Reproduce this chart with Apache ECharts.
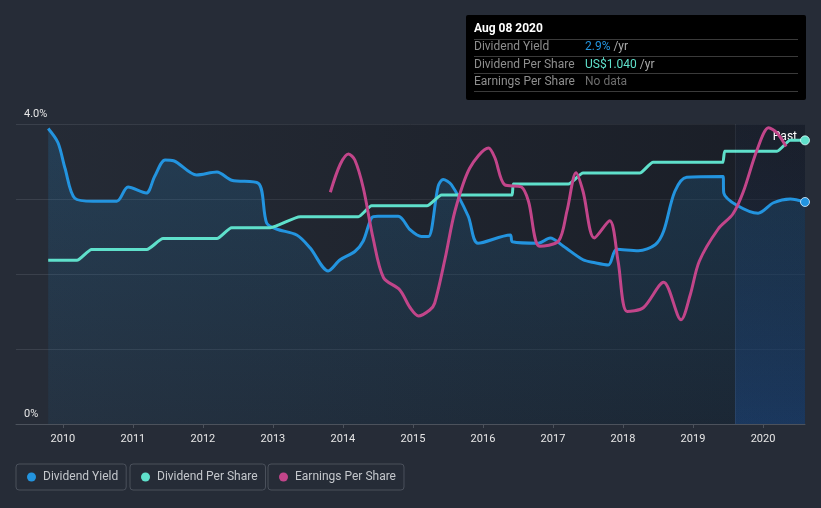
<!DOCTYPE html>
<html>
<head>
<meta charset="utf-8">
<script src="https://cdn.jsdelivr.net/npm/echarts@6/dist/echarts.min.js"></script>
<style>
html,body{margin:0;padding:0;background:#262c37;}
#chart{width:821px;height:508px;}
</style>
</head>
<body>
<div id="chart"></div>
<script>
// ---- data (decimal years) ----
const yearTicks = [2010, 2011, 2012, 2013, 2014, 2015, 2016, 2017, 2018, 2019, 2020];

const yieldDates = [2009.79, 2009.93, 2010.03, 2010.17, 2010.43, 2010.77, 2010.93, 2011.19, 2011.31, 2011.46,
  2011.58, 2011.91, 2012.2, 2012.41, 2012.79, 2012.91, 2013.05, 2013.34, 2013.53, 2013.79,
  2013.96, 2014.17, 2014.29, 2014.41, 2014.5, 2014.79, 2014.96, 2015.12, 2015.22, 2015.36,
  2015.43, 2015.55, 2015.79, 2015.93, 2016.39, 2016.42, 2016.79, 2016.96, 2017.15, 2017.43,
  2017.6, 2017.79, 2017.91, 2018.22, 2018.46, 2018.58, 2018.74, 2018.91, 2019.43, 2019.44,
  2019.62, 2019.93, 2020.15, 2020.39, 2020.6];
const yieldValues = [3.94, 3.75, 3.41, 3.01, 2.97, 2.97, 3.16, 3.08, 3.30, 3.52,
  3.51, 3.32, 3.36, 3.25, 3.21, 2.68, 2.60, 2.52, 2.35, 2.04,
  2.19, 2.30, 2.44, 2.75, 2.77, 2.77, 2.59, 2.50, 2.50, 3.17,
  3.26, 3.19, 2.77, 2.41, 2.52, 2.43, 2.41, 2.48, 2.37, 2.19,
  2.15, 2.12, 2.33, 2.31, 2.39, 2.57, 3.10, 3.29, 3.30, 3.08,
  2.92, 2.81, 2.95, 3.00, 2.96];

const dpsDates = [2009.79, 2010.2, 2010.41, 2011.2, 2011.43, 2012.2, 2012.41, 2012.96, 2013.39, 2014.22,
  2014.41, 2015.2, 2015.41, 2016.42, 2016.43, 2017.22, 2017.43, 2018.24, 2018.43, 2019.43,
  2019.45, 2020.2, 2020.39, 2020.6];
const dpsValues = [0.60, 0.60, 0.64, 0.64, 0.68, 0.68, 0.72, 0.72, 0.76, 0.76,
  0.80, 0.80, 0.84, 0.84, 0.88, 0.88, 0.92, 0.92, 0.96, 0.96,
  1.00, 1.00, 1.04, 1.04];

const epsDates = [2013.82, 2013.96, 2014.08, 2014.17, 2014.29, 2014.43, 2014.58, 2014.81, 2014.96, 2015.08,
  2015.24, 2015.31, 2015.46, 2015.6, 2015.81, 2016.08, 2016.17, 2016.31, 2016.55, 2016.65,
  2016.81, 2017.08, 2017.2, 2017.33, 2017.43, 2017.59, 2017.81, 2017.93, 2018.06, 2018.29,
  2018.58, 2018.83, 2018.96, 2019.09, 2019.36, 2019.57, 2019.72, 2019.91, 2020.08, 2020.2,
  2020.33];
const epsValues = [3.09, 3.46, 3.60, 3.52, 3.15, 2.48, 1.95, 1.79, 1.55, 1.44,
  1.52, 1.61, 2.21, 2.84, 3.41, 3.68, 3.55, 3.19, 3.16, 2.97,
  2.37, 2.44, 2.84, 3.35, 3.10, 2.48, 2.71, 2.17, 1.50, 1.55,
  1.89, 1.39, 1.72, 2.17, 2.60, 2.80, 3.10, 3.64, 3.95, 3.88,
  3.70];

const seriesNames = ['Dividend Yield', 'Dividend Per Share', 'Earnings Per Share'];
const tooltipTitle = 'Aug 08 2020';
const tooltipRows = [
  ['Dividend Yield', '2.9%', ' /yr'],
  ['Dividend Per Share', 'US$1.040', ' /yr'],
  ['Earnings Per Share', 'No data', '']
];
const pastLabel = 'Past';

// ---- build ----
const C_YIELD = '#2394df', C_DPS = '#5fe0cb', C_EPS = '#c2458a';
const zip = (xs, ys) => xs.map((x, i) => [x, ys[i]]);
const lastDate = yieldDates[yieldDates.length - 1];
const firstDate = yieldDates[0];
const pastStart = lastDate - 1;
const FONT = 'Roboto, "Noto Sans", sans-serif';

function endSymbolSize(n) {
  return function (v, p) { return p.dataIndex === n - 1 ? 9 : 0; };
}

const chart = echarts.init(document.getElementById('chart'));
const rowY = [47, 65, 82];
const graphicEls = [
  { type: 'rect', shape: { x: 466, y: 15, width: 340, height: 85, r: 2 }, style: { fill: '#000' }, z: 100 },
  { type: 'text', x: 474, y: 29, style: { text: tooltipTitle, fill: '#fff', font: 'bold 12px ' + FONT, verticalAlign: 'middle' }, z: 101 }
];
[39, 56, 73, 91].forEach(function (yy) {
  graphicEls.push({ type: 'line', shape: { x1: 474, y1: yy + 0.5, x2: 798, y2: yy + 0.5 }, style: { stroke: '#3a3a3a', lineWidth: 1 }, z: 101 });
});
const valColors = [C_YIELD, C_DPS, '#6e6e6e'];
tooltipRows.forEach(function (r, i) {
  graphicEls.push({ type: 'text', x: 474, y: rowY[i], style: { text: r[0], fill: '#8e8e8e', font: '12px ' + FONT, verticalAlign: 'middle' }, z: 101 });
  graphicEls.push({ type: 'text', x: 585, y: rowY[i], style: {
    text: '{v|' + r[1] + '}' + (r[2] ? '{u|' + r[2] + '}' : ''),
    verticalAlign: 'middle',
    rich: { v: { fill: valColors[i], font: '12px ' + FONT }, u: { fill: '#aaaaaa', font: '12px ' + FONT } }
  }, z: 101 });
});

function legendFor(name, left) {
  return {
    data: [name], left: left, top: 464,
    orient: 'horizontal', icon: 'circle', itemWidth: 9, itemHeight: 9, itemGap: 0,
    padding: [7, 8, 7, 11], borderColor: '#4a505b', borderWidth: 1, borderRadius: 3,
    itemStyle: { borderWidth: 0 },
    textStyle: { color: '#c4c7cc', fontSize: 12, fontFamily: FONT, padding: [0, 0, 0, 2] },
    selectedMode: false
  };
}

chart.setOption({
  backgroundColor: '#262c37',
  animation: false,
  textStyle: { fontFamily: FONT },
  grid: { left: 16, right: 16, top: 124, bottom: 84, containLabel: false },
  legend: [legendFor(seriesNames[0], 16), legendFor(seriesNames[1], 130), legendFor(seriesNames[2], 268)],
  xAxis: {
    type: 'value', min: 2009.33, max: lastDate,
    axisLine: { lineStyle: { color: '#4c525c' } },
    axisTick: { show: true, customValues: yearTicks, length: 4, lineStyle: { color: '#4c525c' } },
    axisLabel: { customValues: yearTicks, color: '#e6e6e6', fontSize: 11, margin: 10, formatter: function (v) { return String(Math.round(v)); } },
    splitLine: { show: false }
  },
  yAxis: [
    {
      type: 'value', min: 0, max: 4, interval: 1,
      axisLine: { show: false }, axisTick: { show: false },
      axisLabel: {
        inside: true, verticalAlign: 'bottom', margin: 8, color: '#e6e6e6', fontSize: 11, padding: [0, 0, 4, 0],
        formatter: function (v) { return v === 4 ? '4.0%' : (v === 0 ? '0%' : ''); }
      },
      splitLine: { lineStyle: { color: '#3a404b', width: 1 } }
    },
    { type: 'value', min: 0, max: 1.1, show: false },
    { type: 'value', min: 0, max: 4, show: false }
  ],
  graphic: graphicEls,
  series: [
    {
      type: 'line', name: '_bg', data: [], z: 0, silent: true,
      markArea: {
        silent: true,
        data: [
          [{ xAxis: firstDate, itemStyle: { color: { type: 'linear', x: 0, y: 0, x2: 1, y2: 0, colorStops: [
            { offset: 0, color: 'rgba(10,12,18,0.04)' }, { offset: 1, color: 'rgba(10,12,18,0.45)' }] } } },
           { xAxis: lastDate }],
          [{ xAxis: pastStart, itemStyle: { color: { type: 'linear', x: 0, y: 0, x2: 0, y2: 1, colorStops: [
            { offset: 0, color: 'rgba(30,60,120,0.06)' }, { offset: 0.3, color: 'rgba(30,65,130,0.12)' }, { offset: 1, color: 'rgba(25,85,175,0.33)' }] } },
            label: { show: true, position: 'insideTopRight', formatter: pastLabel, color: '#ffffff', fontSize: 12, offset: [-3, 2] } },
           { xAxis: lastDate }]
        ]
      },
      markLine: {
        silent: true, symbol: 'none', label: { show: false },
        lineStyle: { color: 'rgba(255,255,255,0.06)', type: 'solid', width: 1 },
        data: [{ xAxis: pastStart }]
      }
    },
    {
      type: 'line', name: seriesNames[0], yAxisIndex: 0, z: 3,
      data: zip(yieldDates, yieldValues),
      smooth: 0.3,
      symbol: 'circle', symbolSize: endSymbolSize(yieldDates.length), showSymbol: true,
      itemStyle: { color: C_YIELD, borderColor: 'rgba(220,240,255,0.8)', borderWidth: 1 },
      lineStyle: { color: C_YIELD, width: 3 },
      areaStyle: { color: { type: 'linear', x: 0, y: 0, x2: 0, y2: 1, colorStops: [
        { offset: 0, color: 'rgba(35,148,223,0.26)' }, { offset: 1, color: 'rgba(35,148,223,0.10)' }] } }
    },
    {
      type: 'line', name: seriesNames[1], yAxisIndex: 1, z: 4,
      data: zip(dpsDates, dpsValues),
      smooth: 0.2, smoothMonotone: 'x',
      symbol: 'circle', symbolSize: endSymbolSize(dpsDates.length), showSymbol: true,
      itemStyle: { color: C_DPS, borderColor: 'rgba(220,255,250,0.8)', borderWidth: 1 },
      lineStyle: { color: C_DPS, width: 3 }
    },
    {
      type: 'line', name: seriesNames[2], yAxisIndex: 2, z: 5,
      data: zip(epsDates, epsValues),
      smooth: 0.3,
      showSymbol: false, symbol: 'circle',
      itemStyle: { color: C_EPS },
      lineStyle: { color: C_EPS, width: 3 }
    }
  ]
});
</script>
</body>
</html>
